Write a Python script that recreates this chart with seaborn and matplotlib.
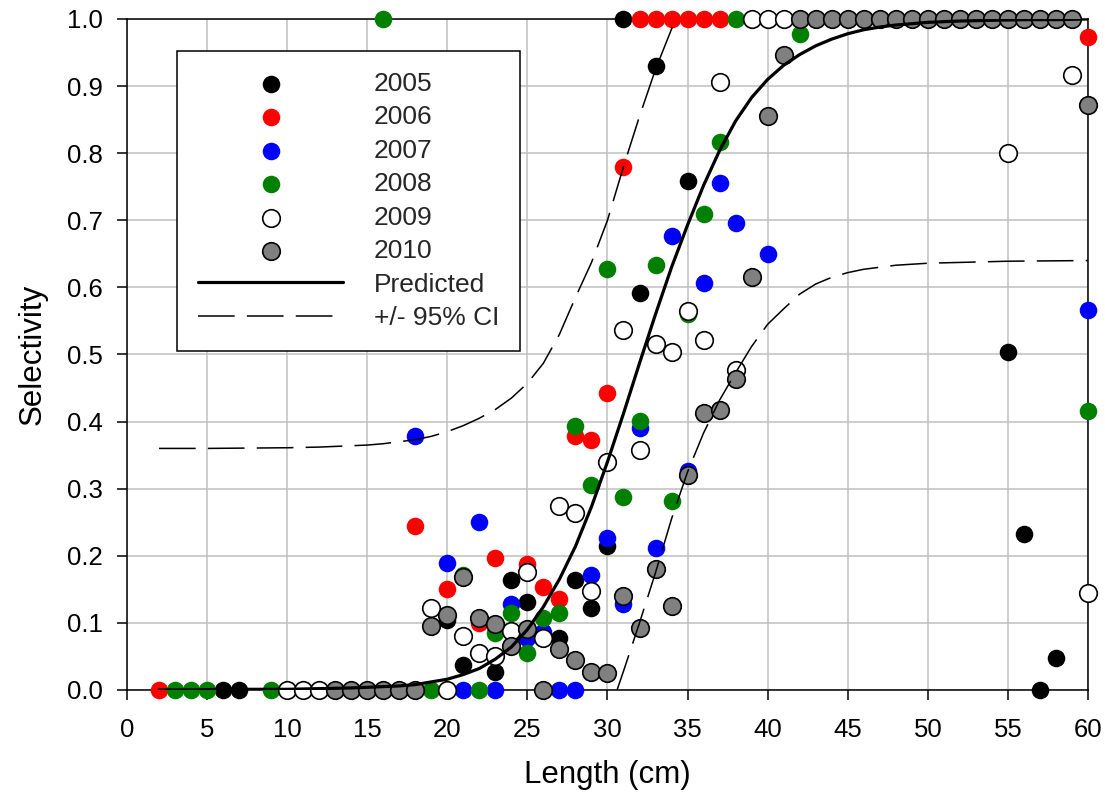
import matplotlib
matplotlib.use('Agg')
import matplotlib.pyplot as plt
import seaborn as sns

sns.set_theme(style='ticks')
plt.rcParams['font.family'] = ['Liberation Sans', 'DejaVu Sans']

# observed selectivity by year (length cm, selectivity)
x05 = [6, 7, 20, 21, 23, 24, 25, 27, 28, 29, 30, 31, 32, 33, 35, 55, 56, 57, 58]
y05 = [0, 0, 0.105, 0.037, 0.027, 0.164, 0.131, 0.077, 0.164, 0.122, 0.215, 1.0, 0.591, 0.930, 0.759,
       0.503, 0.233, 0.0, 0.047]

x06 = [2, 18, 20, 22, 23, 25, 26, 27, 28, 29, 30, 31, 32, 33, 34, 35, 36, 37, 60]
y06 = [0, 0.244, 0.150, 0.100, 0.196, 0.187, 0.154, 0.135, 0.379, 0.372, 0.443, 0.780,
       1, 1, 1, 1, 1, 1, 0.973]

x07 = [18, 20, 21, 22, 23, 24, 25, 26, 27, 28, 29, 30, 31, 32, 33, 34, 35, 36, 37, 38, 40, 60]
y07 = [0.378, 0.189, 0, 0.251, 0, 0.128, 0.078, 0.087, 0, 0, 0.172, 0.226, 0.128, 0.390, 0.211,
       0.677, 0.326, 0.607, 0.755, 0.696, 0.650, 0.566]

x08 = [3, 4, 5, 9, 16, 19, 21, 22, 23, 24, 25, 26, 27, 28, 29, 30, 31, 32, 33, 34, 35, 36, 37, 38, 42, 60]
y08 = [0, 0, 0, 0, 1.0, 0, 0.172, 0, 0.085, 0.114, 0.055, 0.107, 0.114, 0.393, 0.306, 0.627, 0.288,
       0.401, 0.634, 0.281, 0.560, 0.710, 0.816, 1.0, 0.977, 0.416]

x09 = [10, 11, 12, 19, 20, 21, 22, 23, 24, 25, 26, 27, 28, 29, 30, 31, 32, 33, 34, 35, 36, 37, 38,
       39, 40, 41, 55, 59, 60]
y09 = [0, 0, 0, 0.122, 0, 0.080, 0.055, 0.050, 0.088, 0.176, 0.078, 0.274, 0.264, 0.148, 0.340,
       0.537, 0.357, 0.516, 0.504, 0.565, 0.521, 0.906, 0.477, 1, 1, 1, 0.80, 0.917, 0.144]

x10 = [13, 14, 15, 16, 17, 18, 19, 20, 21, 22, 23, 24, 25, 26, 27, 28, 29, 30, 31, 32, 33, 34, 35,
       36, 37, 38, 39, 40, 41, 42, 43, 44, 45, 46, 47, 48, 49, 50, 51, 52, 53, 54, 55, 56, 57, 58,
       59, 60]
y10 = [0, 0, 0, 0, 0, 0, 0.095, 0.111, 0.169, 0.107, 0.099, 0.066, 0.091, 0, 0.061, 0.045, 0.027,
       0.026, 0.140, 0.093, 0.181, 0.125, 0.321, 0.413, 0.417, 0.463, 0.615, 0.856, 0.946,
       1, 1, 1, 1, 1, 1, 1, 1, 1, 1, 1, 1, 1, 1, 1, 1, 1, 1, 0.872]

# predicted curve and 95% CI
pred_x = [2, 4, 6, 8, 10, 12, 14, 15, 16, 17, 18, 19, 20, 21, 22, 23, 24, 25, 26, 27, 28, 29, 30,
          31, 32, 33, 34, 35, 36, 37, 38, 39, 40, 41, 42, 43, 44, 45, 46, 47, 48, 49, 50, 52, 54,
          56, 58, 60]
pred_y = [0.000, 0.000, 0.001, 0.001, 0.001, 0.002, 0.003, 0.004, 0.005, 0.006, 0.008, 0.012,
          0.016, 0.023, 0.032, 0.046, 0.064, 0.090, 0.124, 0.165, 0.214, 0.273, 0.340, 0.412,
          0.487, 0.560, 0.630, 0.693, 0.752, 0.804, 0.848, 0.883, 0.910, 0.931, 0.947, 0.960,
          0.970, 0.978, 0.984, 0.988, 0.991, 0.993, 0.995, 0.997, 0.998, 0.999, 0.999, 1.000]

upper_x = [2, 5, 10, 12, 14, 15, 16, 17, 18, 19, 20, 21, 22, 23, 24, 25, 26, 27, 28, 29, 30, 31,
           32, 33, 34, 34.3]
upper_y = [0.360, 0.360, 0.361, 0.362, 0.364, 0.365, 0.367, 0.370, 0.373, 0.378, 0.385, 0.394,
           0.405, 0.418, 0.435, 0.457, 0.487, 0.530, 0.585, 0.637, 0.700, 0.780, 0.855, 0.925,
           0.985, 1.0]

lower_x = [30.6, 31, 32, 33, 34, 35, 36, 37, 38, 39, 40, 41, 42, 43, 44, 45, 46, 48, 50, 55, 60]
lower_y = [0.0, 0.028, 0.100, 0.175, 0.255, 0.325, 0.383, 0.432, 0.473, 0.512, 0.545, 0.568,
           0.590, 0.605, 0.615, 0.622, 0.627, 0.633, 0.636, 0.639, 0.640]

years = [
    ('2005', x05, y05, 'black', 'black'),
    ('2006', x06, y06, '#ff0000', '#ff0000'),
    ('2007', x07, y07, '#0000ff', '#0000ff'),
    ('2008', x08, y08, '#008000', '#008000'),
    ('2009', x09, y09, 'white', 'black'),
    ('2010', x10, y10, '#808080', 'black'),
]

fig = plt.figure(figsize=(11.05, 8.05), dpi=100)
ax = fig.add_axes([0.1149, 0.1429, 0.8697, 0.8335])

for label, xs, ys, face, edge in years:
    lw = 1.2 if edge != face else 0
    sns.scatterplot(x=xs, y=ys, color=face, edgecolor=edge, linewidth=lw, s=160,
                    label=label, clip_on=False, zorder=3, ax=ax)

sns.lineplot(x=pred_x, y=pred_y, color='black', linewidth=2.3, label='Predicted',
             estimator=None, zorder=5, ax=ax)
sns.lineplot(x=upper_x, y=upper_y, color='black', linewidth=1.1, linestyle=(0, (24, 8)),
             label='+/- 95% CI', estimator=None, zorder=5, ax=ax)
sns.lineplot(x=lower_x, y=lower_y, color='black', linewidth=1.1, linestyle=(0, (24, 8)),
             estimator=None, zorder=5, ax=ax)

ax.set_xlim(0, 60)
ax.set_ylim(0, 1.0)
ax.set_xticks(range(0, 61, 5))
ax.set_yticks([i / 10 for i in range(11)])
ax.set_yticklabels([f'{i / 10:.1f}' for i in range(11)])
ax.grid(True, color='#c0c0c0', linewidth=1.1)
ax.set_axisbelow(True)
for sp in ax.spines.values():
    sp.set_visible(True)
    sp.set_color('black')
    sp.set_linewidth(1.1)
ax.tick_params(axis='both', direction='out', length=7, width=1.1, color='black',
               labelsize=18.5, labelcolor='black')
ax.tick_params(axis='x', pad=13)
ax.tick_params(axis='y', pad=10.5)

ax.set_xlabel('Length (cm)', fontsize=22.5, labelpad=13, color='black')
ax.set_ylabel('Selectivity', fontsize=22.5, labelpad=14, color='black')

handles, labels = ax.get_legend_handles_labels()
leg = ax.legend(handles, labels, loc='upper left', bbox_to_anchor=(0.052, 0.953),
                borderaxespad=0, frameon=True, fancybox=False, edgecolor='black',
                framealpha=1, fontsize=19, handlelength=5.5, handletextpad=1.15,
                labelspacing=0.36, borderpad=0.8)
leg.get_frame().set_linewidth(1.1)
leg.set_zorder(10)

fig.savefig('out.png', dpi=100)
plt.close()
